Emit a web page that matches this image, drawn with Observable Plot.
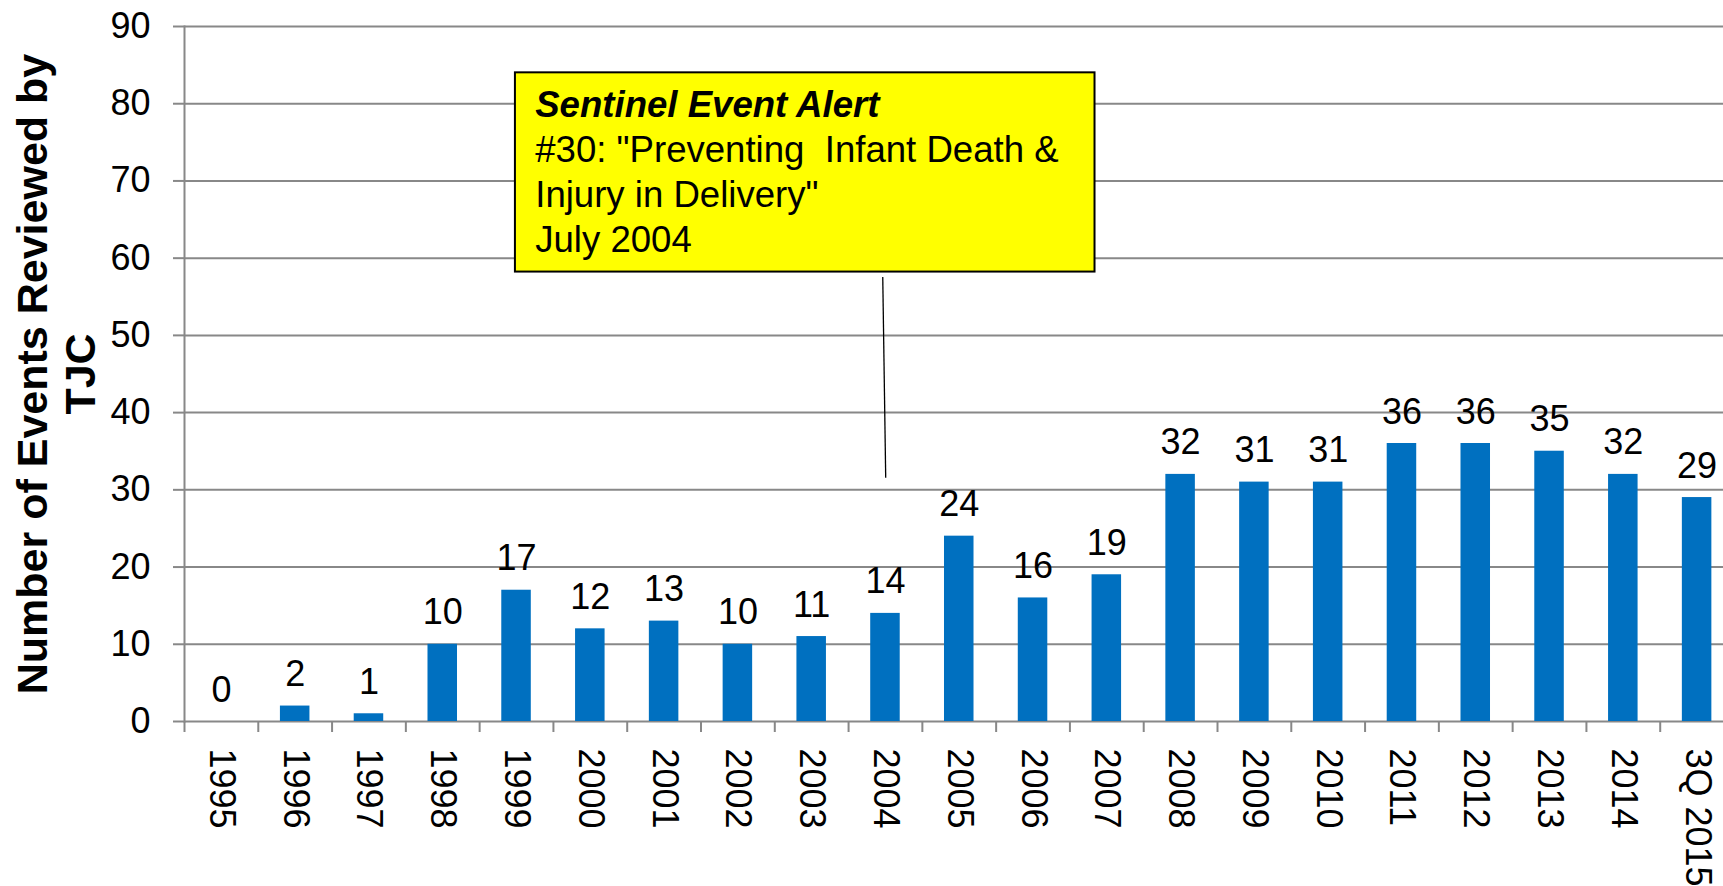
<!DOCTYPE html>
<html>
<head>
<meta charset="utf-8">
<script src="https://cdn.jsdelivr.net/npm/d3@7"></script>
<script src="https://cdn.jsdelivr.net/npm/@observablehq/plot@0.6"></script>
<style>
html, body { margin: 0; padding: 0; background: #fff; overflow: hidden; }
#chart svg text { white-space: pre; }
</style>
</head>
<body>
<div id="chart"></div>
<script>
// ---- data ----
const categories = ["1995","1996","1997","1998","1999","2000","2001","2002","2003","2004","2005","2006","2007","2008","2009","2010","2011","2012","2013","2014","3Q 2015"];
const values = [0, 2, 1, 10, 17, 12, 13, 10, 11, 14, 24, 16, 19, 32, 31, 31, 36, 36, 35, 32, 29];
const yTicks = [0, 10, 20, 30, 40, 50, 60, 70, 80, 90];
const yTitleLines = ["Number of Events Reviewed by", "TJC"];
const noteLines = ["Sentinel Event Alert", "#30: \"Preventing  Infant Death &", "Injury in Delivery\"", "July 2004"];
// annotation placement in data units (x: category-index units, y: value units)
const noteBox = { x1: 4.485, x2: 12.34, y1: 58.2, y2: 84.0 };
const noteTextX = 4.76;
const noteBaselines = [78.2, 72.4, 66.6, 60.7];
const leader = { x1: 9.47, y1: 57.5, x2: 9.51, y2: 31.5 };

// ---- layout ----
const FONT = "'Liberation Sans', Arial, Helvetica, sans-serif";
const W = 1723, H = 886, mL = 184, mR = -10.5, mT = 26, mB = 165;
const step = (W - mL - mR) / categories.length;
const gray = "#888888";
const NUM = 36;
const data = categories.map((c, i) => ({ year: c, value: values[i] }));

const chart = Plot.plot({
  width: W, height: H,
  marginLeft: mL, marginRight: mR, marginTop: mT, marginBottom: mB,
  style: { fontFamily: FONT, fontSize: NUM + "px", background: "#fff", overflow: "visible", color: "#000" },
  x: { domain: categories, paddingInner: 0.6, paddingOuter: 0.3, round: false },
  y: { domain: [0, 90] },
  marks: [
    Plot.ruleY(yTicks, { stroke: gray, strokeWidth: 2 }),
    Plot.axisY({ ticks: yTicks, tickSize: 11, tickPadding: 23, stroke: gray, strokeWidth: 2,
                 fontSize: NUM, fill: "#000", label: null }),
    Plot.axisX({ tickSize: 11, stroke: gray, strokeWidth: 2, tickFormat: () => "", dx: -step / 2, label: null }),
    Plot.frame({ anchor: "left", stroke: gray, strokeWidth: 2 }),
    Plot.barY(data, { x: "year", y: "value", fill: "#0070C0" }),
    Plot.text(data, { x: "year", y: "value", text: d => String(d.value), dy: -20,
                      lineAnchor: "bottom", fontSize: NUM, fill: "#000" }),
    Plot.text(categories, { x: d => d, frameAnchor: "bottom", rotate: 90, textAnchor: "start",
                            lineAnchor: "middle", dy: 27, fontSize: NUM, fill: "#000" }),
    Plot.text([yTitleLines.join("\n")], { frameAnchor: "left", rotate: -90, textAnchor: "middle",
                            lineAnchor: "middle", lineHeight: 1.123, dx: -128.6,
                            fontSize: 43, fontWeight: "bold", fill: "#000" })
  ]
});
document.getElementById("chart").appendChild(chart);

// ---- annotation via the plot's own scales ----
const xs = chart.scale("x"), ys = chart.scale("y");
const xStep = xs.step ?? (xs.bandwidth / 0.4);
const cell0 = xs.apply(categories[0]) - (xStep - xs.bandwidth) / 2;
const px = f => cell0 + f * xStep;
const py = v => ys.apply(v);
const g = d3.select(chart).append("g").attr("text-anchor", "start");
g.append("line")
  .attr("x1", px(leader.x1)).attr("y1", py(leader.y1))
  .attr("x2", px(leader.x2)).attr("y2", py(leader.y2))
  .attr("stroke", "#000").attr("stroke-width", 1.3);
g.append("rect")
  .attr("x", px(noteBox.x1)).attr("y", py(noteBox.y2))
  .attr("width", px(noteBox.x2) - px(noteBox.x1))
  .attr("height", py(noteBox.y1) - py(noteBox.y2))
  .attr("fill", "#FFFF00").attr("stroke", "#000").attr("stroke-width", 2);
noteLines.forEach((t, i) => {
  g.append("text")
    .attr("x", px(noteTextX)).attr("y", py(noteBaselines[i]))
    .attr("text-anchor", "start")
    .attr("font-family", FONT).attr("font-size", 36.6)
    .attr("font-weight", i === 0 ? "bold" : "normal")
    .attr("font-style", i === 0 ? "italic" : "normal")
    .attr("fill", "#000")
    .style("white-space", "pre")
    .text(t);
});
</script>
</body>
</html>
